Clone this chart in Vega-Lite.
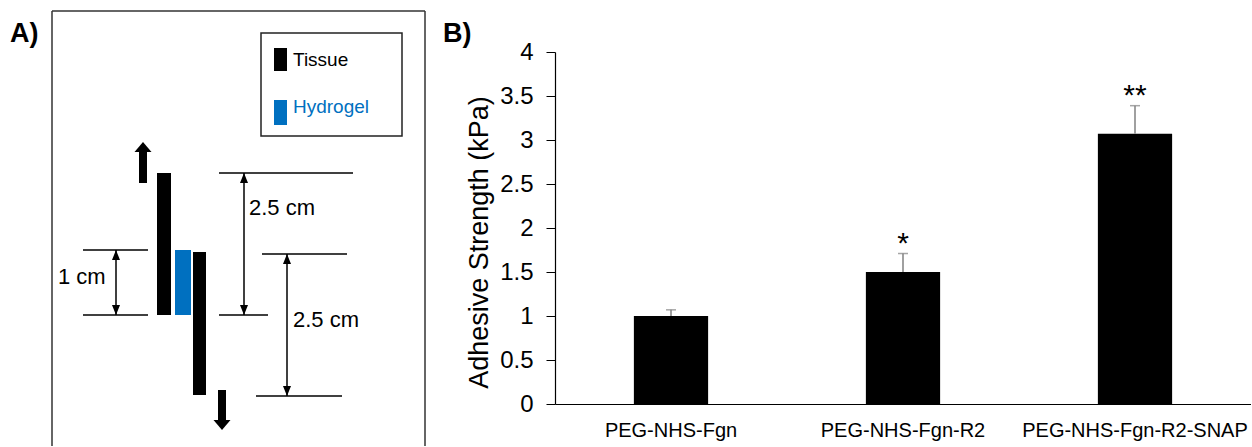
{
  "$schema": "https://vega.github.io/schema/vega-lite/v6.json",
  "padding": {"left": 10, "top": 10, "right": 0, "bottom": 0},
  "bounds": "flush",
  "spacing": 130,
  "config": {"view": {"stroke": null}, "font": "Liberation Sans"},
  "datasets": {
    "frame": [
      {"x": 0, "y": 11, "x2": 373, "y2": 11},
      {"x": 0, "y": 11, "x2": 0, "y2": 446},
      {"x": 373, "y": 11, "x2": 373, "y2": 446}
    ],
    "legendBox": [{"x": 209, "y": 33, "x2": 350, "y2": 136}],
    "blocks": [
      {"part": "Tissue", "x": 105, "x2": 119, "y": 173, "y2": 315},
      {"part": "Hydrogel", "x": 123, "x2": 139, "y": 250, "y2": 315},
      {"part": "Tissue", "x": 141, "x2": 154, "y": 252, "y2": 395},
      {"part": "Arrow", "x": 87, "x2": 95, "y": 151, "y2": 183},
      {"part": "Arrow", "x": 166, "x2": 174, "y": 390, "y2": 421},
      {"part": "Tissue", "x": 222, "x2": 235, "y": 48, "y2": 71},
      {"part": "Hydrogel", "x": 222, "x2": 235, "y": 100, "y2": 125}
    ],
    "dims": [
      {"x": 31, "y": 250, "x2": 96, "y2": 250},
      {"x": 31, "y": 315, "x2": 96, "y2": 315},
      {"x": 64, "y": 250, "x2": 64, "y2": 315},
      {"x": 167, "y": 173, "x2": 301, "y2": 173},
      {"x": 167, "y": 315, "x2": 216, "y2": 315},
      {"x": 192, "y": 173, "x2": 192, "y2": 315},
      {"x": 210, "y": 254, "x2": 295, "y2": 254},
      {"x": 204, "y": 396, "x2": 290, "y2": 396},
      {"x": 235, "y": 254, "x2": 235, "y2": 396}
    ],
    "heads": [
      {"head": "big-up", "x": 91, "y": 147},
      {"head": "big-down", "x": 170, "y": 425},
      {"head": "small-up", "x": 64, "y": 255},
      {"head": "small-down", "x": 64, "y": 310},
      {"head": "small-up", "x": 192, "y": 178},
      {"head": "small-down", "x": 192, "y": 310},
      {"head": "small-up", "x": 235, "y": 259},
      {"head": "small-down", "x": 235, "y": 391}
    ],
    "legendText": [
      {"part": "Tissue", "label": "Tissue", "x": 241, "y": 60},
      {"part": "Hydrogel", "label": "Hydrogel", "x": 241, "y": 107}
    ],
    "dimText": [
      {"label": "1 cm", "x": 6, "y": 277},
      {"label": "2.5 cm", "x": 197, "y": 208},
      {"label": "2.5 cm", "x": 241, "y": 320}
    ],
    "panelText": [
      {"label": "A)", "x": -42, "y": 34},
      {"label": "B)", "x": 391, "y": 34}
    ],
    "results": [
      {"group": "PEG-NHS-Fgn", "mean": 1.0, "upper": 1.07, "sig": ""},
      {"group": "PEG-NHS-Fgn-R2", "mean": 1.5, "upper": 1.71, "sig": "*"},
      {"group": "PEG-NHS-Fgn-R2-SNAP", "mean": 3.07, "upper": 3.39, "sig": "**"}
    ]
  },
  "hconcat": [
    {
      "width": 373,
      "height": 352,
      "encoding": {
        "x": {"field": "x", "type": "quantitative", "scale": {"domain": [0, 373], "nice": false, "zero": false}, "axis": null},
        "y": {"field": "y", "type": "quantitative", "scale": {"domain": [52, 404], "nice": false, "zero": false, "reverse": true}, "axis": null}
      },
      "layer": [
        {
          "data": {"name": "frame"},
          "mark": {"type": "rule", "color": "#333333", "strokeWidth": 1.5},
          "encoding": {"x2": {"field": "x2"}, "y2": {"field": "y2"}}
        },
        {
          "data": {"name": "legendBox"},
          "mark": {"type": "rect", "fill": "#ffffff", "stroke": "#222222", "strokeWidth": 1.5},
          "encoding": {"x2": {"field": "x2"}, "y2": {"field": "y2"}}
        },
        {
          "data": {"name": "blocks"},
          "mark": {"type": "rect"},
          "encoding": {
            "x2": {"field": "x2"}, "y2": {"field": "y2"},
            "color": {"field": "part", "type": "nominal", "scale": {"domain": ["Tissue", "Hydrogel", "Arrow"], "range": ["#000000", "#0070C0", "#000000"]}, "legend": null}
          }
        },
        {
          "data": {"name": "dims"},
          "mark": {"type": "rule", "color": "#000000", "strokeWidth": 1.5},
          "encoding": {"x2": {"field": "x2"}, "y2": {"field": "y2"}}
        },
        {
          "data": {"name": "heads"},
          "mark": {"type": "point", "filled": true, "color": "#000000", "opacity": 1, "size": 100, "strokeWidth": 0},
          "encoding": {
            "shape": {"field": "head", "type": "nominal", "scale": {"domain": ["big-up", "big-down", "small-up", "small-down"], "range": ["M-1.7,1L1.7,1L0,-1Z", "M-1.7,-1L1.7,-1L0,1Z", "M-0.8,1L0.8,1L0,-1Z", "M-0.8,-1L0.8,-1L0,1Z"]}, "legend": null}
          }
        },
        {
          "data": {"name": "legendText"},
          "mark": {"type": "text", "align": "left", "baseline": "middle", "fontSize": 19},
          "encoding": {
            "text": {"field": "label"},
            "color": {"field": "part", "type": "nominal", "scale": {"domain": ["Tissue", "Hydrogel", "Arrow"], "range": ["#000000", "#0070C0", "#000000"]}, "legend": null}
          }
        },
        {
          "data": {"name": "dimText"},
          "mark": {"type": "text", "align": "left", "baseline": "middle", "fontSize": 22, "color": "#000000"},
          "encoding": {"text": {"field": "label"}}
        },
        {
          "data": {"name": "panelText"},
          "mark": {"type": "text", "align": "left", "baseline": "middle", "fontSize": 27, "fontWeight": "bold", "color": "#000000"},
          "encoding": {"text": {"field": "label"}}
        }
      ]
    },
    {
      "width": 696,
      "height": 352,
      "data": {"name": "results"},
      "encoding": {
        "x": {
          "field": "group", "type": "nominal", "sort": null,
          "scale": {"paddingInner": 0.68, "paddingOuter": 0.34},
          "axis": {"title": null, "labelAngle": 0, "ticks": false, "domainColor": "#000000", "domainWidth": 1.2, "labelFontSize": 20, "labelColor": "#000000", "labelPadding": 16, "labelLimit": 0}
        }
      },
      "layer": [
        {
          "mark": {"type": "bar", "color": "#000000"},
          "encoding": {
            "y": {
              "field": "mean", "type": "quantitative",
              "scale": {"domain": [0, 4], "nice": false},
              "axis": {"title": "Adhesive Strength (kPa)", "values": [0, 0.5, 1, 1.5, 2, 2.5, 3, 3.5, 4], "format": "~g", "grid": false, "tickSize": 9, "tickColor": "#000000", "domainColor": "#000000", "domainWidth": 1.2, "labelFontSize": 24, "labelColor": "#000000", "labelPadding": 13, "titleFontSize": 27, "titleFontWeight": "normal", "titleColor": "#000000", "titlePadding": 6, "titleY": 190}
            }
          }
        },
        {
          "mark": {"type": "rule", "color": "#808080", "strokeWidth": 1.5},
          "encoding": {
            "y": {"field": "mean", "type": "quantitative", "title": "Adhesive Strength (kPa)"},
            "y2": {"field": "upper"}
          }
        },
        {
          "mark": {"type": "tick", "color": "#808080", "thickness": 1.5, "size": 10},
          "encoding": {"y": {"field": "upper", "type": "quantitative", "title": "Adhesive Strength (kPa)"}}
        },
        {
          "mark": {"type": "text", "fontSize": 30, "baseline": "alphabetic", "dy": -1, "color": "#000000"},
          "encoding": {
            "y": {"field": "upper", "type": "quantitative", "title": "Adhesive Strength (kPa)"},
            "text": {"field": "sig"}
          }
        }
      ]
    }
  ]
}
